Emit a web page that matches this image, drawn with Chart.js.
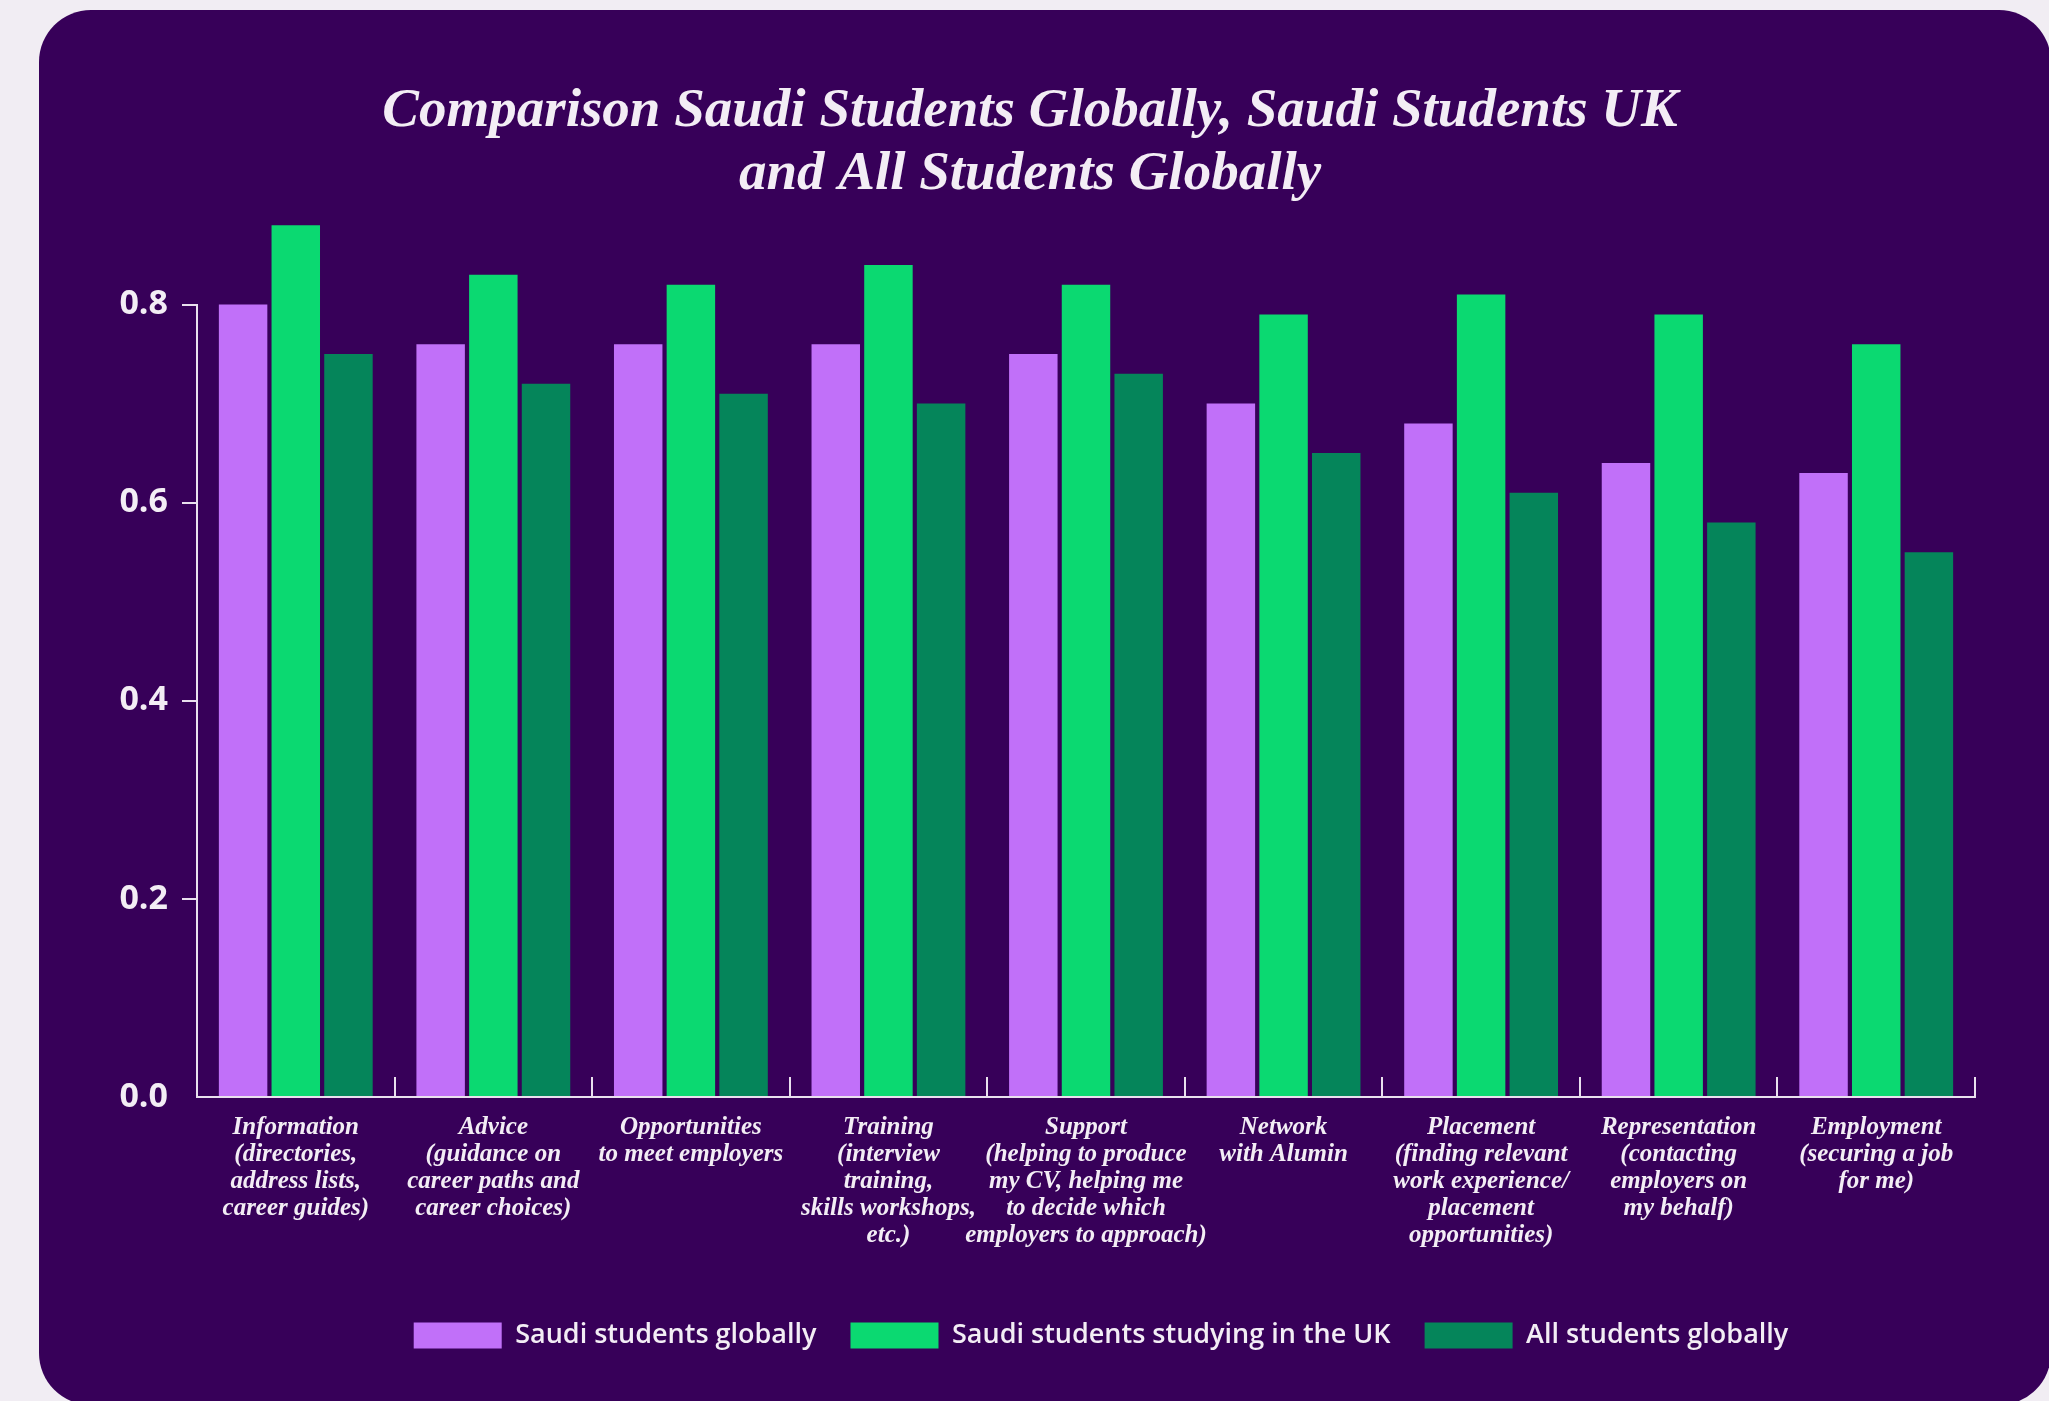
<!DOCTYPE html>
<html>
<head>
<meta charset="utf-8">
<script src="https://cdn.jsdelivr.net/npm/chart.js@4.4.1/dist/chart.umd.min.js"></script>
<style>
  html, body { margin: 0; padding: 0; background: #f1edf3; overflow: hidden; }
  body { width: 2049px; height: 1401px; position: relative; }
  .panel {
    position: absolute; left: 39px; top: 10px;
    width: 2012px; height: 1395px;
    background: #370059; border-radius: 52px;
  }
  .wrap { position: absolute; left: 39px; top: 10px; width: 2010px; height: 1391px; }
</style>
</head>
<body>
<div class="panel"></div>
<div class="wrap"><canvas id="comparisonChart"></canvas></div>
<script>
const categories = [
  ["Information", "(directories,", "address lists,", "career guides)"],
  ["Advice", "(guidance on", "career paths and", "career choices)"],
  ["Opportunities", "to meet employers"],
  ["Training", "(interview", "training,", "skills workshops,", "etc.)"],
  ["Support", "(helping to produce", "my CV, helping me", "to decide which", "employers to approach)"],
  ["Network", "with Alumin"],
  ["Placement", "(finding relevant", "work experience/", "placement", "opportunities)"],
  ["Representation", "(contacting", "employers on", "my behalf)"],
  ["Employment", "(securing a job", "for me)"]
];

const saudiGlobal = [0.80, 0.76, 0.76, 0.76, 0.75, 0.70, 0.68, 0.64, 0.63];
const saudiUK     = [0.88, 0.83, 0.82, 0.84, 0.82, 0.79, 0.81, 0.79, 0.76];
const allGlobal   = [0.75, 0.72, 0.71, 0.70, 0.73, 0.65, 0.61, 0.58, 0.55];

const yTickValues = [0, 0.2, 0.4, 0.6, 0.8];

const textColor = "#f3edf5";
const axisColor = "#e9e0ee";

Chart.defaults.color = textColor;
Chart.defaults.font.family = "'Open Sans', sans-serif";

// nudge the legend row a little to the right of the plot centre
const legendNudge = {
  id: "legendNudge",
  afterLayout(chart) {
    if (chart.legend) chart.legend.left += 30;
  }
};

const ctx = document.getElementById("comparisonChart");

new Chart(ctx, {
  type: "bar",
  data: {
    labels: categories,
    datasets: [
      { label: "Saudi students globally", data: saudiGlobal, backgroundColor: "#c170f9", clip: false },
      { label: "Saudi students studying in the UK", data: saudiUK, backgroundColor: "#0bd971", clip: false },
      { label: "All students globally", data: allGlobal, backgroundColor: "#05855a", clip: false }
    ]
  },
  plugins: [legendNudge],
  options: {
    responsive: true,
    maintainAspectRatio: false,
    animation: false,
    categoryPercentage: 0.8,
    barPercentage: 0.92,
    layout: { padding: { left: 46, right: 74, top: 0, bottom: 42 } },
    plugins: {
      title: {
        display: true,
        text: ["Comparison Saudi Students Globally, Saudi Students UK", "and All Students Globally"],
        color: textColor,
        font: { family: "'Liberation Serif', serif", size: 55, weight: "bold", style: "italic", lineHeight: 1.15 },
        padding: { top: 70, bottom: 98 }
      },
      legend: {
        position: "bottom",
        fullSize: false,
        labels: {
          boxWidth: 88,
          boxHeight: 26,
          padding: 34,
          color: textColor,
          font: { size: 27, weight: "600" }
        }
      },
      tooltip: { enabled: false }
    },
    scales: {
      x: {
        grid: {
          drawOnChartArea: false,
          offset: true,
          tickLength: -20,
          color: axisColor,
          lineWidth: 2
        },
        border: { display: true, color: axisColor, width: 2 },
        ticks: {
          padding: 37,
          color: textColor,
          maxRotation: 0,
          autoSkip: false,
          font: { family: "'Liberation Serif', serif", size: 25, weight: "bold", style: "italic", lineHeight: 1.08 }
        },
        afterFit(scale) { scale.height = 191; }
      },
      y: {
        min: 0,
        max: 0.8,
        afterBuildTicks(scale) { scale.ticks = yTickValues.map(v => ({ value: v })); },
        grid: {
          drawOnChartArea: false,
          tickLength: 15,
          lineWidth: 2,
          color: c => (c.tick && c.tick.value === 0 ? "rgba(0,0,0,0)" : axisColor)
        },
        border: { display: true, color: axisColor, width: 2 },
        ticks: {
          padding: 14,
          color: textColor,
          font: { size: 34, weight: "bold" },
          callback: v => Number(v).toFixed(1)
        },
        afterFit(scale) { scale.width = 112; }
      }
    }
  }
});
</script>
</body>
</html>
